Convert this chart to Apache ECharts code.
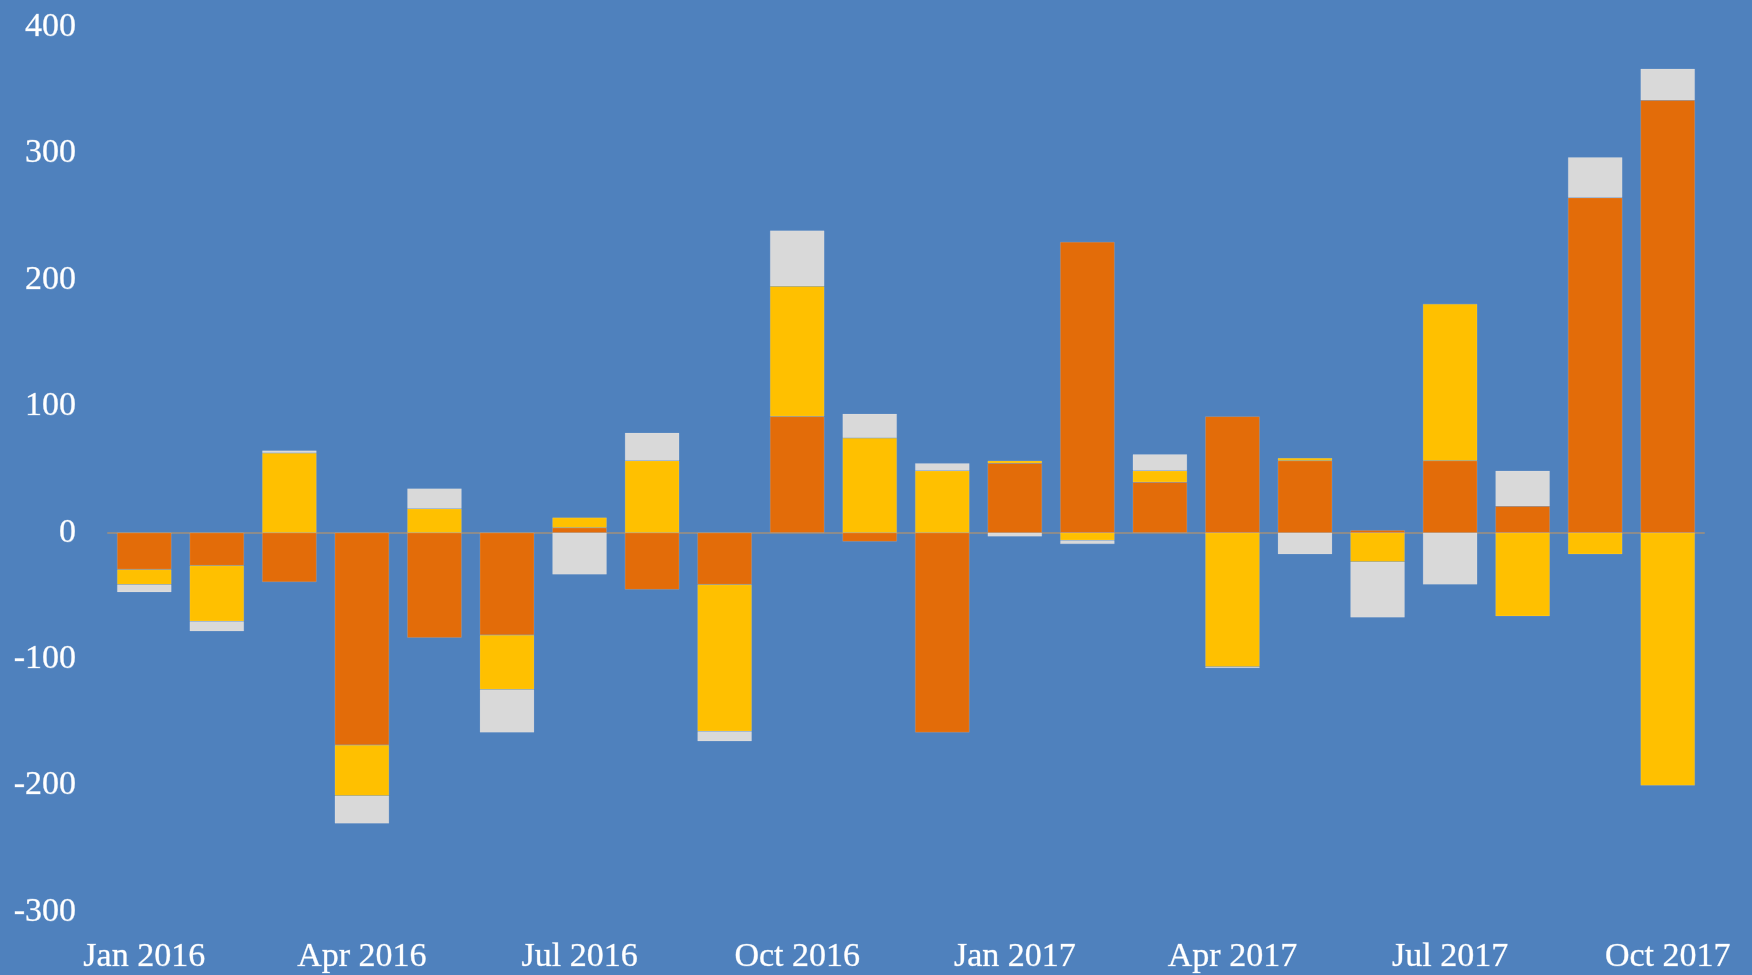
<!DOCTYPE html>
<html>
<head>
<meta charset="utf-8">
<style>
  html, body { margin: 0; padding: 0; background: #4f81bd; }
  #chart { width: 1752px; height: 975px; }
</style>
<script src="https://cdn.jsdelivr.net/npm/echarts@6/dist/echarts.min.js"></script>
</head>
<body>
<div id="chart"></div>
<script>
// months Jan 2016 .. Oct 2017
const months = [
  'Jan 2016', 'Feb 2016', 'Mar 2016', 'Apr 2016', 'May 2016', 'Jun 2016',
  'Jul 2016', 'Aug 2016', 'Sep 2016', 'Oct 2016', 'Nov 2016', 'Dec 2016',
  'Jan 2017', 'Feb 2017', 'Mar 2017', 'Apr 2017', 'May 2017', 'Jun 2017',
  'Jul 2017', 'Aug 2017', 'Sep 2017', 'Oct 2017'
]
const orange = [-29, -26, -39, -168, -83, -81, 4, -45, -41, 92, -7, -158, 55, 230, 40, 92, 57, 2, 57, 21, 265, 342]
const yellow = [-12, -44, 63, -40, 19, -43, 8, 57, -116, 103, 75, 49, 2, -6, 9, -106, 2, -23, 124, -66, -17, -200]
const grey   = [-6, -8, 2, -22, 16, -34, -33, 22, -8, 44, 19, 6, -3, -3, 13, -1, -17, -44, -41, 28, 32, 25]
const yTicks = [-300, 400, 100] // min, max, step

const font = '"Liberation Serif", "DejaVu Serif", serif'

const chart = echarts.init(document.getElementById('chart'))

function bar(name, data, color) {
  return {
    name: name, type: 'bar', stack: 'all', data: data,
    barWidth: '75%',
    itemStyle: { color: color, borderColor: 'rgba(255,255,255,0.25)', borderWidth: 0.5 }
  }
}

chart.setOption({
  backgroundColor: '#4f81bd',
  animation: false,
  grid: { left: 108, right: 48, top: 27, bottom: 63, containLabel: false },
  xAxis: [
    {
      // axis line + ticks sitting on zero
      type: 'category', data: months,
      axisLine: { onZero: true, lineStyle: { color: '#8c8c8c', width: 2 } },
      axisTick: { interval: 2, length: 10, lineStyle: { color: '#8c8c8c', width: 2 } },
      axisLabel: { show: false }
    },
    {
      // labels only, at the bottom of the plot
      type: 'category', data: months, position: 'bottom',
      axisLine: { show: false, onZero: false },
      axisTick: { show: false },
      axisLabel: { interval: 2, color: '#fff', fontFamily: font, fontSize: 34, margin: 28,
        textBorderColor: 'rgba(255,255,255,0.5)', textBorderWidth: 0.6 }
    }
  ],
  yAxis: {
    type: 'value', min: yTicks[0], max: yTicks[1], interval: yTicks[2],
    splitLine: { show: false },
    axisLine: { show: false }, axisTick: { show: false },
    axisLabel: { color: '#fff', fontFamily: font, fontSize: 34, margin: 32,
      textBorderColor: 'rgba(255,255,255,0.5)', textBorderWidth: 0.6 }
  },
  series: [
    bar('A', orange, '#e36c09'),
    bar('B', yellow, '#ffc000'),
    bar('C', grey, '#d9d9d9')
  ]
})
</script>
</body>
</html>
